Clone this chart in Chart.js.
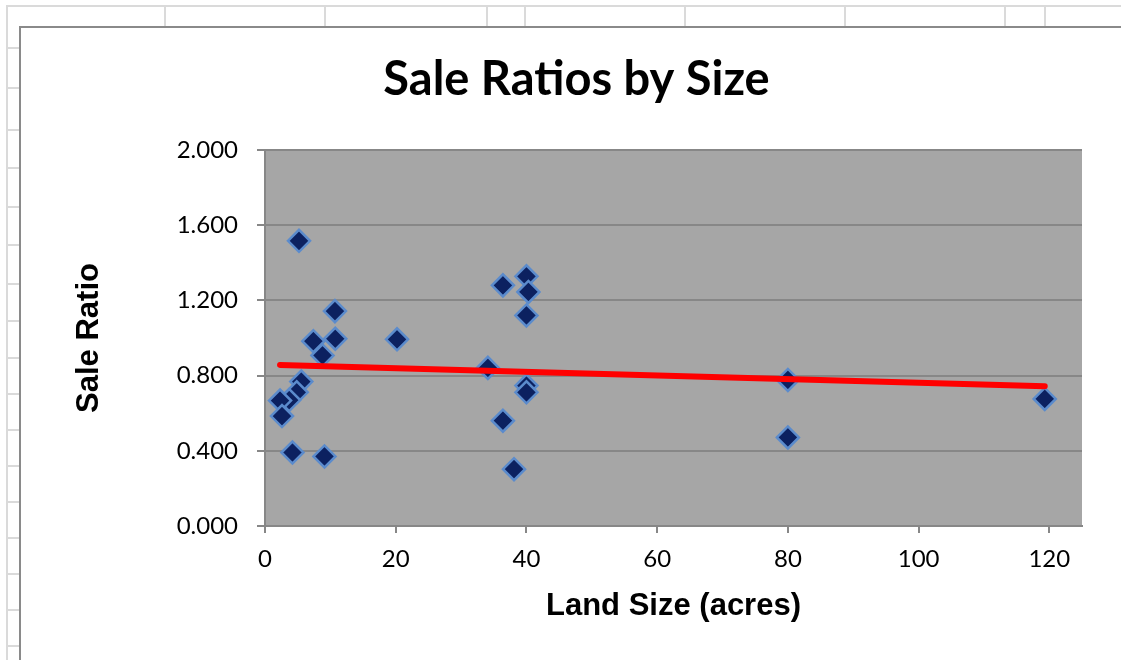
<!DOCTYPE html>
<html>
<head>
<meta charset="utf-8">
<title>Sale Ratios by Size</title>
<script src="https://cdn.jsdelivr.net/npm/chart.js@4.4.1/dist/chart.umd.min.js"></script>
<style>
  html, body { margin: 0; padding: 0; background: #ffffff; }
  #chart { display: block; }
</style>
</head>
<body>
<canvas id="chart" width="1121" height="660"></canvas>
<script>
// Land size (acres) and sale ratio for each sale
const landSize = [5.2, 10.7, 7.4, 10.75, 8.8, 5.55, 4.85, 3.7, 2.3, 2.6, 4.2, 9.1,
                  20.2, 36.4, 40.0, 40.3, 40.0, 34.1, 40.0, 40.0, 36.4, 38.1, 80.0, 80.0, 119.3];
const saleRatio = [1.517, 1.143, 0.983, 0.996, 0.907, 0.768, 0.711, 0.670, 0.667, 0.585, 0.391, 0.370,
                   0.993, 1.280, 1.328, 1.245, 1.120, 0.841, 0.747, 0.711, 0.560, 0.302, 0.777, 0.471, 0.676];

// Linear trend line end points
const trendX = [2.3, 119.3];
const trendY = [0.857, 0.744];

// Axis tick settings
const xTicks = { min: 0, max: 125, step: 20 };
const yTicks = { min: 0, max: 2, step: 0.4 };

const points = landSize.map((x, i) => ({ x: x, y: saleRatio[i] }));
const trend = trendX.map((x, i) => ({ x: x, y: trendY[i] }));

// Worksheet cells behind the embedded chart, the chart frame and the grey plot area
const sheetPlugin = {
  id: 'sheet',
  beforeDraw(chart) {
    const ctx = chart.ctx;
    const W = chart.width, H = chart.height;
    ctx.save();
    ctx.fillStyle = '#ffffff';
    ctx.fillRect(0, 0, W, H);
    ctx.strokeStyle = '#dadada';
    ctx.lineWidth = 2;
    // top row of cells
    ctx.beginPath();
    ctx.moveTo(6, 6); ctx.lineTo(W, 6);
    [165, 325, 487, 525, 685, 845, 1005, 1045].forEach(x => {
      ctx.moveTo(x, 6); ctx.lineTo(x, 27);
    });
    // left column of cells
    ctx.moveTo(7, 6); ctx.lineTo(7, H);
    [48, 88, 130, 168, 207, 245, 284, 321, 358, 394, 430, 466, 502, 538, 574, 610, 646].forEach(y => {
      ctx.moveTo(7, y); ctx.lineTo(20, y);
    });
    ctx.stroke();
    // chart frame
    ctx.strokeStyle = '#8a8a8a';
    ctx.lineWidth = 2;
    ctx.beginPath();
    ctx.moveTo(20, H); ctx.lineTo(20, 27); ctx.lineTo(W, 27);
    ctx.stroke();
    // plot area fill
    const a = chart.chartArea;
    ctx.fillStyle = '#a6a6a6';
    ctx.fillRect(a.left, a.top, a.right - a.left, a.bottom - a.top);
    ctx.restore();
  }
};

new Chart(document.getElementById('chart'), {
  type: 'scatter',
  data: {
    datasets: [
      {
        type: 'line',
        label: 'Linear trend',
        data: trend,
        borderColor: '#ff0000',
        borderWidth: 6,
        borderCapStyle: 'round',
        pointRadius: 0,
        fill: false,
        order: 0
      },
      {
        label: 'Sale Ratio',
        data: points,
        pointStyle: 'rectRot',
        pointRadius: 11,
        pointHoverRadius: 11,
        backgroundColor: '#0c2160',
        borderColor: '#5b8bcc',
        borderWidth: 2.5,
        order: 1
      }
    ]
  },
  options: {
    responsive: false,
    animation: false,
    events: [],
    layout: { padding: { left: 71, right: 39, top: 0, bottom: 35 } },
    plugins: {
      legend: { display: false },
      tooltip: { enabled: false },
      title: {
        display: true,
        text: 'Sale Ratios by Size',
        color: '#000000',
        font: { family: 'Lato', size: 47, weight: 'bold', lineHeight: 1.2 },
        padding: { top: 52, bottom: 41.6 }
      }
    },
    scales: {
      x: {
        type: 'linear',
        min: xTicks.min,
        max: xTicks.max,
        afterFit(s) { s.height = 99; },
        grid: { drawOnChartArea: false, drawTicks: true, tickLength: 7, color: '#878787', lineWidth: 2 },
        border: { display: true, color: '#878787', width: 2 },
        ticks: {
          stepSize: xTicks.step,
          includeBounds: false,
          padding: 12,
          color: '#000000',
          font: { family: 'Lato', size: 24 },
          maxRotation: 0
        },
        title: {
          display: true,
          text: 'Land Size (acres)',
          color: '#000000',
          font: { family: 'Liberation Sans', size: 31, weight: 'bold', lineHeight: 1.2 },
          padding: { top: 0, bottom: 0 }
        }
      },
      y: {
        type: 'linear',
        min: yTicks.min,
        max: yTicks.max,
        afterFit(s) { s.width = 194; },
        grid: { drawOnChartArea: true, drawTicks: true, tickLength: 8, color: '#878787', lineWidth: 2 },
        border: { display: true, color: '#878787', width: 2 },
        ticks: {
          stepSize: yTicks.step,
          padding: 19,
          color: '#000000',
          font: { family: 'Lato', size: 24 },
          callback: v => Number(v).toFixed(3)
        },
        title: {
          display: true,
          text: 'Sale Ratio',
          color: '#000000',
          font: { family: 'Liberation Sans', size: 31, weight: 'bold', lineHeight: 1.2 },
          padding: { top: 0, bottom: 0 }
        }
      }
    }
  },
  plugins: [sheetPlugin]
});
</script>
</body>
</html>
